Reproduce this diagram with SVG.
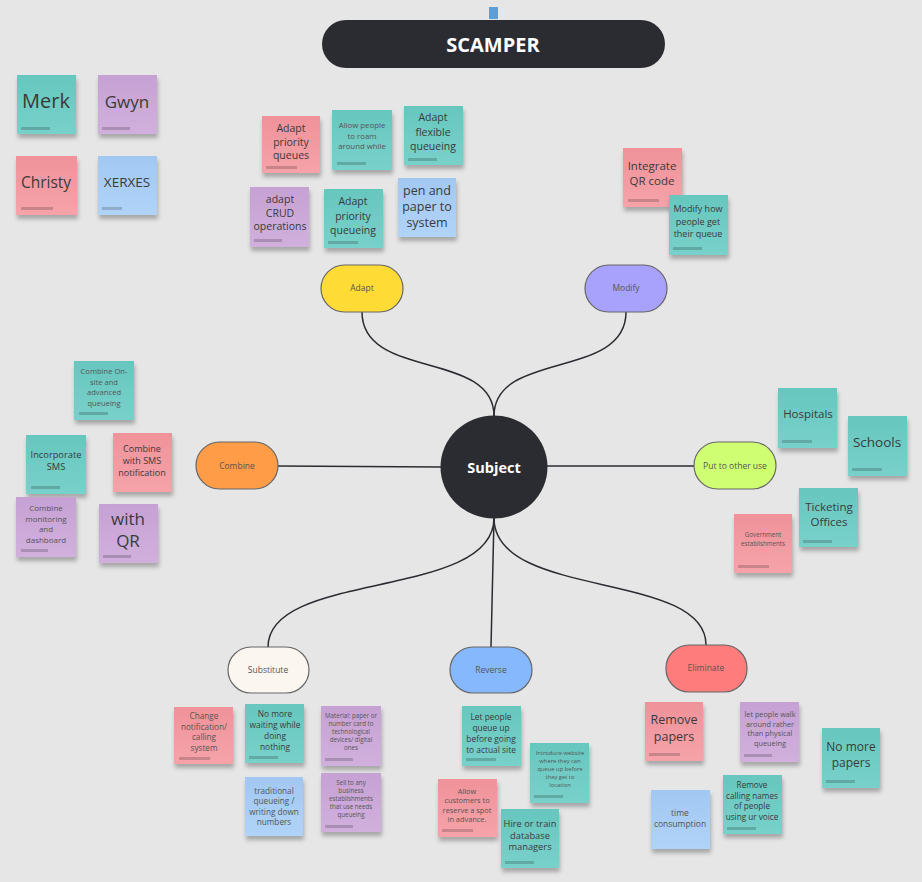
<svg xmlns="http://www.w3.org/2000/svg" width="922" height="882" viewBox="0 0 922 882">
<defs>
<filter id="sh" x="-20%" y="-20%" width="140%" height="150%">
<feDropShadow dx="1" dy="4" stdDeviation="2" flood-color="#000" flood-opacity="0.28"/>
</filter>
<linearGradient id="gt" x1="0" y1="0" x2="0" y2="1"><stop offset="0" stop-color="#66c7bf"/><stop offset="1" stop-color="#78d1ca"/></linearGradient>
<linearGradient id="gp" x1="0" y1="0" x2="0" y2="1"><stop offset="0" stop-color="#f0929a"/><stop offset="1" stop-color="#f5a3a9"/></linearGradient>
<linearGradient id="gu" x1="0" y1="0" x2="0" y2="1"><stop offset="0" stop-color="#c6a1d4"/><stop offset="1" stop-color="#d1b0dd"/></linearGradient>
<linearGradient id="gb" x1="0" y1="0" x2="0" y2="1"><stop offset="0" stop-color="#a2c8f2"/><stop offset="1" stop-color="#b0d3f8"/></linearGradient>
</defs>
<style>
text{font-family:"Open Sans","Noto Sans","DejaVu Sans",sans-serif;text-anchor:middle;}
.s{filter:url(#sh);}
.t{fill:url(#gt);}
.p{fill:url(#gp);}
.u{fill:url(#gu);}
.b{fill:url(#gb);}
.bar{fill:#000;opacity:0.18;}
.tx{fill:#3a3a3a;}
.sm{fill:#555;}
.node{stroke:#666;stroke-width:1.2;}
.nl{font-size:8.5px;fill:#555;}
.con{fill:none;stroke:#2b2c31;stroke-width:1.5;}
</style>
<rect width="922" height="882" fill="#e6e6e6"/>

<g id="title">
<rect x="489" y="7" width="9" height="12" fill="#5b9fd6"/>
<rect x="322" y="20" width="343" height="48" rx="24" fill="#2b2c31"/>
<text x="493" y="52" font-size="20" font-weight="bold" fill="#fff">SCAMPER</text>
</g>

<g id="connectors">
<path class="con" d="M362,312 C362,380 494,350 494,416"/>
<path class="con" d="M626,312 C626,380 494,350 494,416"/>
<path class="con" d="M278,466 L441,467"/>
<path class="con" d="M547,466 L694,466"/>
<path class="con" d="M494,518 C494,600 268,570 268,647"/>
<path class="con" d="M494,518 L491,647"/>
<path class="con" d="M494,518 C494,600 706,570 706,645"/>
</g>

<g id="subject">
<ellipse cx="494" cy="467" rx="53.5" ry="51.5" fill="#2b2c31"/>
<text x="494" y="473" font-size="14.5" font-weight="bold" fill="#fff">Subject</text>
</g>

<g id="adapt"><rect class="node" x="321" y="265" width="82" height="47" rx="23.5" fill="#fedc35"/><text class="nl" x="362" y="291">Adapt</text></g>
<g id="modify"><rect class="node" x="585" y="265" width="82" height="47" rx="23.5" fill="#a8a2fc"/><text class="nl" x="626" y="291">Modify</text></g>
<g id="combine"><rect class="node" x="196" y="442" width="82" height="47" rx="23.5" fill="#fe9c48"/><text class="nl" x="237" y="469">Combine</text></g>
<g id="put-to-other-use"><rect class="node" x="694" y="442" width="82" height="47" rx="23.5" fill="#d0fe72"/><text class="nl" x="735" y="469">Put to other use</text></g>
<g id="substitute"><rect class="node" x="228" y="647" width="81" height="46" rx="23" fill="#fbf7f0"/><text class="nl" x="268" y="673">Substitute</text></g>
<g id="reverse"><rect class="node" x="450" y="647" width="82" height="46" rx="23" fill="#86b8fd"/><text class="nl" x="491" y="673">Reverse</text></g>
<g id="eliminate"><rect class="node" x="666" y="645" width="81" height="47" rx="23" fill="#fe7c7c"/><text class="nl" x="706" y="671">Eliminate</text></g>

<!-- name stickies -->
<g id="n-merk"><rect class="s t" x="17" y="75" width="59" height="59"/><rect class="bar" x="21" y="127" width="29" height="3"/><text class="tx" x="46" y="108" font-size="20">Merk</text></g>
<g id="n-gwyn"><rect class="s u" x="98" y="75" width="59" height="59"/><rect class="bar" x="102" y="127" width="28" height="3"/><text class="tx" x="127" y="108" font-size="17">Gwyn</text></g>
<g id="n-christy"><rect class="s p" x="16" y="156" width="61" height="59"/><rect class="bar" x="21" y="207" width="32" height="3"/><text class="tx" x="46" y="188" font-size="15.5">Christy</text></g>
<g id="n-xerxes"><rect class="s b" x="98" y="156" width="59" height="59"/><rect class="bar" x="102" y="207" width="20" height="3"/><text class="tx" x="127" y="187" font-size="13.5">XERXES</text></g>

<!-- adapt stickies -->
<g id="a1"><rect class="s p" x="262" y="116" width="58" height="57"/><rect class="bar" x="266" y="166" width="31" height="3"/><text class="tx" font-size="10.5"><tspan x="291" y="132">Adapt</tspan><tspan x="291" y="145.5">priority</tspan><tspan x="291" y="159">queues</tspan></text></g>
<g id="a2"><rect class="s t" x="332" y="110" width="60" height="60"/><rect class="bar" x="337" y="162" width="29" height="3"/><text class="sm" font-size="7.8"><tspan x="362" y="128">Allow people</tspan><tspan x="362" y="138.5">to roam</tspan><tspan x="362" y="149">around while</tspan></text></g>
<g id="a3"><rect class="s t" x="404" y="106" width="59" height="59"/><rect class="bar" x="408" y="158" width="29" height="3"/><text class="tx" font-size="10.5"><tspan x="433" y="121">Adapt</tspan><tspan x="433" y="135.5">flexible</tspan><tspan x="433" y="150">queueing</tspan></text></g>
<g id="a4"><rect class="s u" x="250" y="187" width="59" height="60"/><rect class="bar" x="254" y="239" width="28" height="3"/><text class="tx" font-size="10.5"><tspan x="280" y="203">adapt</tspan><tspan x="280" y="216.5">CRUD</tspan><tspan x="280" y="230">operations</tspan></text></g>
<g id="a5"><rect class="s t" x="324" y="189" width="59" height="59"/><rect class="bar" x="328" y="241" width="30" height="3"/><text class="tx" font-size="10.5"><tspan x="353" y="205">Adapt</tspan><tspan x="353" y="219.5">priority</tspan><tspan x="353" y="234">queueing</tspan></text></g>
<g id="a6"><rect class="s b" x="398" y="178" width="58" height="59"/><text class="tx" font-size="12.5"><tspan x="427" y="195">pen and</tspan><tspan x="427" y="211">paper to</tspan><tspan x="427" y="227">system</tspan></text></g>

<!-- modify stickies -->
<g id="m1"><rect class="s p" x="623" y="148" width="59" height="59"/><rect class="bar" x="628" y="199" width="31" height="3"/><text class="tx" font-size="11.5"><tspan x="652" y="170">Integrate</tspan><tspan x="652" y="185">QR code</tspan></text></g>
<g id="m2"><rect class="s t" x="669" y="195" width="59" height="60"/><rect class="bar" x="673" y="247" width="29" height="3"/><text class="tx" font-size="9"><tspan x="698" y="212">Modify how</tspan><tspan x="698" y="224.5">people get</tspan><tspan x="698" y="237">their queue</tspan></text></g>

<!-- combine stickies -->
<g id="c1"><rect class="s t" x="74" y="361" width="60" height="59"/><rect class="bar" x="79" y="412" width="29" height="3"/><text class="sm" font-size="7.6"><tspan x="104" y="374">Combine On-</tspan><tspan x="104" y="384.5">site and</tspan><tspan x="104" y="395">advanced</tspan><tspan x="104" y="405.5">queueing</tspan></text></g>
<g id="c2"><rect class="s t" x="26" y="435" width="60" height="59"/><rect class="bar" x="31" y="486" width="29" height="3"/><text class="tx" font-size="9.3"><tspan x="56" y="458">Incorporate</tspan><tspan x="56" y="470">SMS</tspan></text></g>
<g id="c3"><rect class="s p" x="113" y="433" width="59" height="59"/><text class="tx" font-size="9"><tspan x="142" y="452">Combine</tspan><tspan x="142" y="464">with SMS</tspan><tspan x="142" y="476">notification</tspan></text></g>
<g id="c4"><rect class="s u" x="16" y="497" width="60" height="60"/><rect class="bar" x="21" y="549" width="27" height="3"/><text class="sm" font-size="8"><tspan x="46" y="511">Combine</tspan><tspan x="46" y="521.7">monitoring</tspan><tspan x="46" y="532.3">and</tspan><tspan x="46" y="543">dashboard</tspan></text></g>
<g id="c5"><rect class="s u" x="99" y="504" width="59" height="59"/><rect class="bar" x="103" y="555" width="28" height="3"/><text class="tx" font-size="17"><tspan x="128" y="525">with</tspan><tspan x="128" y="547">QR</tspan></text></g>

<!-- put to other use stickies -->
<g id="p1"><rect class="s t" x="778" y="388" width="59" height="60"/><rect class="bar" x="782" y="440" width="30" height="3"/><text class="tx" font-size="11.5" x="808" y="418">Hospitals</text></g>
<g id="p2"><rect class="s t" x="848" y="416" width="59" height="60"/><rect class="bar" x="852" y="468" width="30" height="3"/><text class="tx" font-size="13.5" x="877" y="447">Schools</text></g>
<g id="p3"><rect class="s t" x="799" y="488" width="59" height="59"/><rect class="bar" x="803" y="540" width="29" height="3"/><text class="tx" font-size="11.5"><tspan x="829" y="511">Ticketing</tspan><tspan x="829" y="526">Offices</tspan></text></g>
<g id="p4"><rect class="s p" x="734" y="514" width="58" height="59"/><rect class="bar" x="738" y="565" width="31" height="3"/><text class="sm" font-size="6.2"><tspan x="763" y="537">Government</tspan><tspan x="763" y="546">establishments</tspan></text></g>

<!-- substitute stickies -->
<g id="s1"><rect class="s p" x="174" y="707" width="59" height="57"/><rect class="bar" x="179" y="757" width="31" height="3"/><text class="sm" font-size="8.2"><tspan x="204" y="719">Change</tspan><tspan x="204" y="729.7">notification/</tspan><tspan x="204" y="740.3">calling</tspan><tspan x="204" y="751">system</tspan></text></g>
<g id="s2"><rect class="s t" x="245" y="704" width="59" height="59"/><rect class="bar" x="249" y="756" width="29" height="3"/><text class="tx" font-size="8.4"><tspan x="275" y="717">No more</tspan><tspan x="275" y="728">waiting while</tspan><tspan x="275" y="739">doing</tspan><tspan x="275" y="750">nothing</tspan></text></g>
<g id="s3"><rect class="s u" x="321" y="706" width="60" height="60"/><rect class="bar" x="325" y="758" width="28" height="3"/><text class="sm" font-size="6.2"><tspan x="351" y="718">Material: paper or</tspan><tspan x="351" y="726">number card to</tspan><tspan x="351" y="734">technological</tspan><tspan x="351" y="742">devices/ digital</tspan><tspan x="351" y="750">ones</tspan></text></g>
<g id="s4"><rect class="s b" x="245" y="777" width="58" height="59"/><text class="sm" font-size="8.2"><tspan x="274" y="794">traditional</tspan><tspan x="274" y="804.3">queueing /</tspan><tspan x="274" y="814.7">writing down</tspan><tspan x="274" y="825">numbers</tspan></text></g>
<g id="s5"><rect class="s u" x="321" y="773" width="60" height="59"/><rect class="bar" x="325" y="825" width="28" height="3"/><text class="sm" font-size="6.2"><tspan x="351" y="785">Sell to any</tspan><tspan x="351" y="793">business</tspan><tspan x="351" y="801">establishments</tspan><tspan x="351" y="809">that use needs</tspan><tspan x="351" y="817">queueing</tspan></text></g>

<!-- reverse stickies -->
<g id="r1"><rect class="s t" x="462" y="706" width="59" height="60"/><rect class="bar" x="466" y="758" width="30" height="3"/><text class="tx" font-size="8.4"><tspan x="491" y="719.5">Let people</tspan><tspan x="491" y="730.5">queue up</tspan><tspan x="491" y="741.5">before going</tspan><tspan x="491" y="752.5">to actual site</tspan></text></g>
<g id="r2"><rect class="s t" x="530" y="743" width="59" height="60"/><rect class="bar" x="534" y="795" width="29" height="3"/><text class="sm" font-size="5.8"><tspan x="560" y="755">Introduce website</tspan><tspan x="560" y="763">where they can</tspan><tspan x="560" y="771">queue up before</tspan><tspan x="560" y="779">they get to</tspan><tspan x="560" y="787">location</tspan></text></g>
<g id="r3"><rect class="s p" x="438" y="779" width="59" height="58"/><rect class="bar" x="442" y="829" width="31" height="3"/><text class="sm" font-size="7.4"><tspan x="467" y="794">Allow</tspan><tspan x="467" y="803.3">customers to</tspan><tspan x="467" y="812.7">reserve  a spot</tspan><tspan x="467" y="822">in advance.</tspan></text></g>
<g id="r4"><rect class="s t" x="501" y="809" width="58" height="59"/><rect class="bar" x="505" y="861" width="29" height="3"/><text class="tx" font-size="9.3"><tspan x="530" y="827">Hire or train</tspan><tspan x="530" y="838.5">database</tspan><tspan x="530" y="850">managers</tspan></text></g>

<!-- eliminate stickies -->
<g id="e1"><rect class="s p" x="645" y="702" width="58" height="59"/><rect class="bar" x="649" y="753" width="31" height="3"/><text class="tx" font-size="12.5"><tspan x="674" y="724">Remove</tspan><tspan x="674" y="741">papers</tspan></text></g>
<g id="e2"><rect class="s u" x="740" y="702" width="59" height="60"/><rect class="bar" x="744" y="754" width="28" height="3"/><text class="sm" font-size="7.3"><tspan x="770" y="717">let people walk</tspan><tspan x="770" y="726.7">around rather</tspan><tspan x="770" y="736.3">than physical</tspan><tspan x="770" y="746">queueing</tspan></text></g>
<g id="e3"><rect class="s t" x="822" y="728" width="58" height="60"/><rect class="bar" x="826" y="780" width="29" height="3"/><text class="tx" font-size="12"><tspan x="851" y="751">No more</tspan><tspan x="851" y="767">papers</tspan></text></g>
<g id="e4"><rect class="s t" x="723" y="775" width="59" height="59"/><rect class="bar" x="727" y="827" width="29" height="3"/><text class="tx" font-size="8.2"><tspan x="752" y="788">Remove</tspan><tspan x="752" y="798.5">calling names</tspan><tspan x="752" y="809">of people</tspan><tspan x="752" y="819.5">using ur voice</tspan></text></g>
<g id="e5"><rect class="s b" x="651" y="790" width="59" height="59"/><text class="sm" font-size="8.5"><tspan x="680" y="816">time</tspan><tspan x="680" y="827">consumption</tspan></text></g>
</svg>
